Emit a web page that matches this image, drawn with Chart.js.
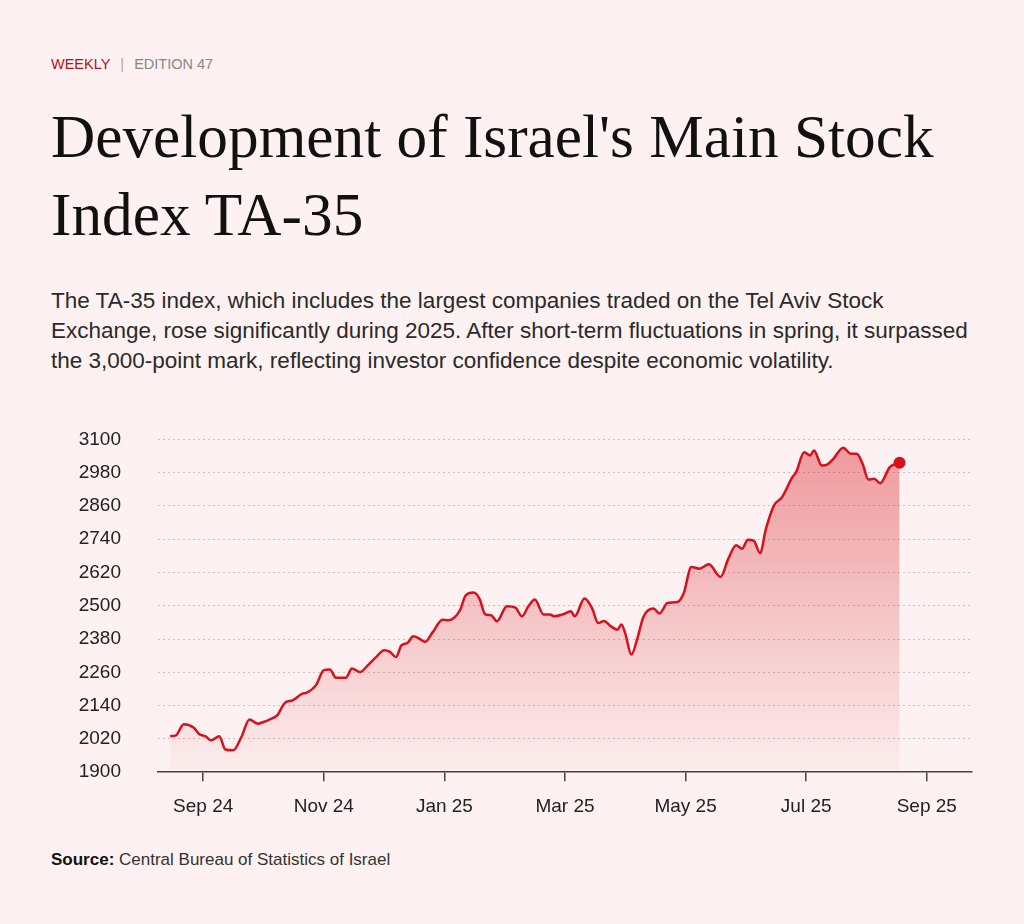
<!doctype html>
<html lang="en">
  <head>
    <meta charset="UTF-8" />
    <title>TA-35 Index Development</title>
    <script src="https://cdn.jsdelivr.net/npm/chart.js"></script>
    <style>
      html, body {
        margin: 0;
        padding: 0;
        background: #fdf1f1;
        width: 1024px;
        height: 924px;
        overflow: hidden;
        font-family: "Liberation Sans", Arial, sans-serif;
        color: #222;
      }
      .kicker {
        position: absolute;
        left: 51px;
        top: 56px;
        font-size: 14.5px;
        line-height: 17px;
        color: #888;
      }
      .kicker .tag { color: #b5121b; }
      .kicker .sep { color: #b0a8a8; margin: 0 10px; }
      h1 {
        position: absolute;
        left: 51px;
        top: 97px;
        margin: 0;
        width: 960px;
        font-family: "Liberation Serif", "Times New Roman", serif;
        font-weight: normal;
        font-size: 61.3px;
        line-height: 78px;
        color: #111;
      }
      .lede {
        position: absolute;
        left: 51px;
        top: 286px;
        margin: 0;
        width: 980px;
        font-size: 22.5px;
        line-height: 30px;
        color: #2a2a2a;
      }
      /* the chart box starts above the plot so Chart.js' own top inset lands the 3100 line at y=439 */
      .chart-box {
        position: absolute;
        left: 0;
        top: 391px;
        width: 1024px;
        height: 453px;
      }
      .source {
        position: absolute;
        left: 51px;
        top: 850px;
        font-size: 17px;
        line-height: 20px;
        color: #333;
      }
      .source b { color: #111; }
    </style>
  </head>
  <body>
    <div class="kicker"><span class="tag">WEEKLY</span><span class="sep">|</span>EDITION 47</div>
    <h1>Development of Israel's Main Stock<br />Index TA-35</h1>
    <p class="lede">
      The TA-35 index, which includes the largest companies traded on the Tel Aviv Stock<br />
      Exchange, rose significantly during 2025. After short-term fluctuations in spring, it surpassed<br />
      the 3,000-point mark, reflecting investor confidence despite economic volatility.
    </p>
    <div class="chart-box"><canvas id="ta35"></canvas></div>
    <div class="source"><b>Source:</b> Central Bureau of Statistics of Israel</div>

    <script>
      // values
      const dates = [
        "2024-08-15", "2024-08-18", "2024-08-22", "2024-08-27", "2024-08-30",
        "2024-09-02", "2024-09-05", "2024-09-09", "2024-09-12", "2024-09-16",
        "2024-09-20", "2024-09-24", "2024-09-28", "2024-10-01", "2024-10-04",
        "2024-10-08", "2024-10-12", "2024-10-16", "2024-10-21", "2024-10-23",
        "2024-10-28", "2024-11-01", "2024-11-04", "2024-11-07", "2024-11-12",
        "2024-11-15", "2024-11-19", "2024-11-23", "2024-11-27", "2024-12-01",
        "2024-12-04", "2024-12-07", "2024-12-10", "2024-12-13", "2024-12-16",
        "2024-12-19", "2024-12-22", "2024-12-26", "2024-12-31", "2025-01-03",
        "2025-01-06", "2025-01-09", "2025-01-12", "2025-01-16", "2025-01-19",
        "2025-01-22", "2025-01-25", "2025-01-28", "2025-02-02", "2025-02-06",
        "2025-02-09", "2025-02-12", "2025-02-15", "2025-02-19", "2025-02-22",
        "2025-02-24", "2025-02-28", "2025-03-04", "2025-03-06", "2025-03-11",
        "2025-03-15", "2025-03-18", "2025-03-21", "2025-03-25", "2025-03-28",
        "2025-03-30", "2025-04-01", "2025-04-04", "2025-04-07", "2025-04-10",
        "2025-04-15", "2025-04-18", "2025-04-22", "2025-04-27", "2025-04-30",
        "2025-05-04", "2025-05-08", "2025-05-13", "2025-05-19", "2025-05-23",
        "2025-05-27", "2025-05-30", "2025-06-02", "2025-06-05", "2025-06-08",
        "2025-06-11", "2025-06-15", "2025-06-19", "2025-06-24", "2025-06-26",
        "2025-06-30", "2025-07-03", "2025-07-05", "2025-07-09", "2025-07-12",
        "2025-07-15", "2025-07-20", "2025-07-24", "2025-07-27", "2025-07-30",
        "2025-08-02", "2025-08-05", "2025-08-08", "2025-08-13", "2025-08-18"
      ];
      const values = [
        2030, 2033, 2073, 2061, 2037,
        2030, 2015, 2030, 1982, 1979,
        2027, 2090, 2075, 2081, 2090,
        2105, 2150, 2159, 2183, 2186,
        2214, 2268, 2270, 2241, 2241,
        2274, 2261, 2286, 2315, 2340,
        2334, 2315, 2358, 2366, 2390,
        2382, 2370, 2405, 2450, 2448,
        2457, 2484, 2538, 2548, 2526,
        2469, 2466, 2444, 2498, 2493,
        2462, 2498, 2523, 2469, 2469,
        2462, 2469, 2480, 2462, 2526,
        2490, 2438, 2445, 2424, 2414,
        2433, 2400, 2324, 2382, 2460,
        2490, 2472, 2510, 2514, 2544,
        2640, 2634, 2650, 2604, 2670,
        2718, 2706, 2738, 2734, 2690,
        2778, 2862, 2892, 2962, 2982,
        3054, 3042, 3060, 3006, 3010,
        3030, 3070, 3048, 3048, 3012,
        2955, 2958, 2942, 3000, 3016
      ];
      const tickMonths = [0, 2, 4, 6, 8, 10, 12];
      const tickLabels = ["Sep 24", "Nov 24", "Jan 25", "Mar 25", "May 25", "Jul 25", "Sep 25"];
      const yMin = 1900;
      const yMax = 3100;
      const yStep = 120;

      // months since Sep 2024, so every month gets the same width
      function monthPos(s) {
        const [y, m, d] = s.split("-").map(Number);
        const dim = new Date(y, m, 0).getDate();
        return (y - 2024) * 12 + (m - 9) + (d - 1) / dim;
      }

      const red = "#d7101c";
      const sans = "'Liberation Sans', Arial, sans-serif";
      const last = values.length - 1;

      const ctx = document.getElementById("ta35").getContext("2d");
      const chart = new Chart(ctx, {
        type: "line",
        data: {
          datasets: [
            {
              data: dates.map((d, i) => ({ x: monthPos(d), y: values[i] })),
              borderColor: red,
              borderWidth: 2.5,
              cubicInterpolationMode: "monotone",
              fill: "start",
              backgroundColor: (c) => {
                const area = c.chart.chartArea;
                if (!area) return "rgba(215,20,30,0.2)";
                const g = c.chart.ctx.createLinearGradient(0, area.top, 0, area.bottom);
                g.addColorStop(0, "rgba(215,20,30,0.40)");
                g.addColorStop(1, "rgba(215,20,30,0.02)");
                return g;
              },
              pointRadius: (c) => (c.dataIndex === last ? 6 : 0),
              pointBackgroundColor: red,
              pointBorderWidth: 0,
            },
          ],
        },
        options: {
          responsive: true,
          maintainAspectRatio: false,
          animation: false,
          events: [],
          layout: { padding: { left: 78, right: 52, top: 19, bottom: 12 } },
          plugins: {
            legend: { display: false },
            tooltip: { enabled: false },
          },
          scales: {
            x: {
              type: "linear",
              min: -0.75,
              max: 12.75,
              afterBuildTicks: (s) => {
                s.ticks = tickMonths.map((v) => ({ value: v }));
              },
              ticks: {
                callback: (v, i) => tickLabels[i],
                autoSkip: false,
                maxRotation: 0,
                padding: 14,
                color: "#222",
                font: { family: sans, size: 19 },
              },
              grid: {
                drawOnChartArea: false,
                drawTicks: true,
                tickLength: 9,
                color: "#444",
                lineWidth: 1.5,
              },
              border: { display: true, color: "#444", width: 1.5 },
            },
            y: {
              min: yMin,
              max: yMax,
              afterFit: (s) => {
                s.width = 80;
              },
              ticks: {
                stepSize: yStep,
                padding: 37,
                color: "#222",
                font: { family: sans, size: 19 },
                callback: (v) => String(v),
              },
              grid: {
                drawTicks: false,
                lineWidth: 1,
                color: (c) => (c.tick && c.tick.value === yMin ? "rgba(0,0,0,0)" : "#c9c1c1"),
              },
              border: { display: false, dash: [2, 3] },
            },
          },
        },
      });
    </script>
  </body>
</html>
